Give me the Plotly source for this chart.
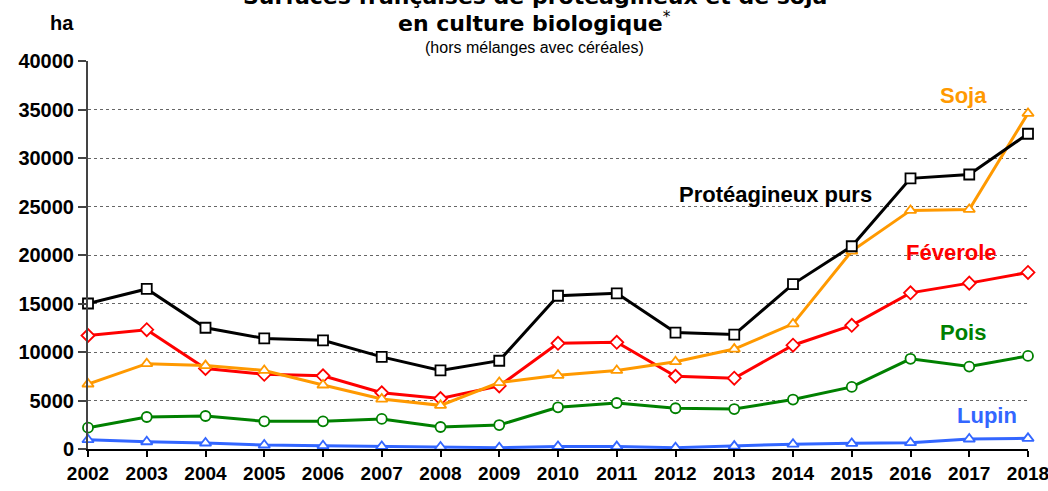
"""Surfaces de protéagineux et de soja en culture biologique."""
import plotly.graph_objects as go

years = list(range(2002, 2019))

proteagineux = [15000, 16500, 12500, 11400, 11200, 9500, 8100, 9100, 15800, 16050,
                12000, 11800, 17000, 20900, 27900, 28300, 32500]
soja = [6700, 8800, 8600, 8100, 6600, 5150, 4500, 6850, 7600, 8100,
        9000, 10300, 12900, 20400, 24600, 24700, 34600]
feverole = [11700, 12300, 8300, 7700, 7550, 5800, 5200, 6500, 10900, 11000,
            7500, 7300, 10700, 12750, 16100, 17100, 18200]
pois = [2200, 3300, 3400, 2850, 2850, 3100, 2270, 2470, 4300, 4740,
        4200, 4120, 5100, 6400, 9300, 8500, 9600]
lupin = [960, 750, 620, 410, 340, 270, 200, 140, 270, 250,
         140, 300, 500, 580, 650, 1030, 1100]

FONT = "Arial, Liberation Sans, sans-serif"
TITLE_FONT = "DejaVu Sans, Arial, sans-serif"

series = [
    ("Protéagineux purs", proteagineux, "#000000", "square"),
    ("Soja", soja, "#FF9900", "triangle-up"),
    ("Féverole", feverole, "#FF0000", "diamond"),
    ("Pois", pois, "#008000", "circle"),
    ("Lupin", lupin, "#3366FF", "triangle-up"),
]

fig = go.Figure()
# draw bottom series first so black line sits on top
for name, vals, color, symbol in reversed(series):
    fig.add_trace(go.Scatter(
        x=years, y=vals, name=name, mode="lines+markers",
        line=dict(color=color, width=3),
        marker=dict(symbol=symbol, size=10, color="white",
                    line=dict(color=color, width=1.8)),
        cliponaxis=False,
    ))

labels = [
    ("Protéagineux purs", 2013.7, 26200, "#000000"),
    ("Soja", 2016.9, 36400, "#FF9900"),
    ("Féverole", 2016.7, 20300, "#FF0000"),
    ("Pois", 2016.9, 12000, "#008000"),
    ("Lupin", 2017.3, 3500, "#3366FF"),
]
for text, lx, ly, color in labels:
    fig.add_annotation(x=lx, y=ly, text=f"<b>{text}</b>", showarrow=False,
                       xanchor="center", yanchor="middle",
                       font=dict(family=FONT, size=22, color=color))

# titles (first line is cut by the top edge in the original)
titles = [
    ("<b>Surfaces françaises de protéagineux et de soja</b>", 1.1675, TITLE_FONT, 22),
    ("<b>en culture biologique</b><sup>*</sup>", 1.1005, TITLE_FONT, 22),
    ("(hors mélanges avec céréales)", 1.036, FONT, 16),
]
for text, ty, family, size in titles:
    fig.add_annotation(xref="paper", yref="paper", x=0.4755, y=ty, text=text,
                       showarrow=False, xanchor="center", yanchor="middle",
                       font=dict(family=family, size=size, color="black"))
fig.add_annotation(xref="paper", yref="paper", x=-0.028, y=1.098,
                   text="<b>ha</b>", showarrow=False,
                   xanchor="center", yanchor="middle",
                   font=dict(family=FONT, size=20, color="black"))

fig.update_layout(
    width=1048, height=491,
    margin=dict(l=88, r=20, t=61, b=42, autoexpand=False),
    paper_bgcolor="white", plot_bgcolor="white",
    showlegend=False,
    font=dict(family=FONT, color="black"),
)
fig.update_xaxes(
    range=[2002, 2018], tickmode="array", tickvals=years,
    ticktext=[f"<b>{y}</b>" for y in years],
    tickfont=dict(family=FONT, size=19, color="black"),
    ticklabeloverflow="allow", automargin=False,
    showgrid=False, showline=True, linecolor="black", linewidth=2,
    ticks="outside", ticklen=6, tickcolor="black", tickwidth=1.5,
    zeroline=False,
)
fig.update_yaxes(
    range=[0, 40000], tickmode="array",
    tickvals=list(range(0, 40001, 5000)),
    ticktext=[f"<b>{v}</b>" for v in range(0, 40001, 5000)],
    tickfont=dict(family=FONT, size=20, color="black"),
    automargin=False,
    showgrid=True, gridcolor="#666666", gridwidth=1, griddash="dot",
    showline=True, linecolor="#444444", linewidth=2,
    ticks="outside", ticklen=8, tickcolor="#444444", tickwidth=1.5,
    zeroline=False,
)

# drop the browser's default 8px body margin so the figure fills the window
fig.write_html("out.html", config={"displayModeBar": False},
               post_script="document.body.style.margin = '0';")
